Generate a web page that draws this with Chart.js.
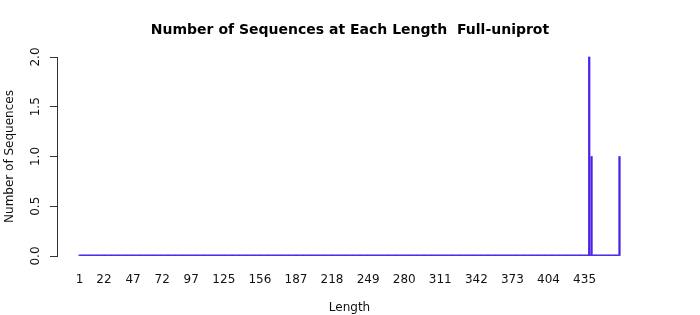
<!DOCTYPE html>
<html>
<head>
<meta charset="utf-8">
<script src="https://cdn.jsdelivr.net/npm/chart.js@4"></script>
<style>
  html, body { margin: 0; padding: 0; background: #fff; }
  #wrap { width: 700px; height: 315px; position: relative; }
</style>
</head>
<body>
<div id="wrap"><canvas id="c" width="700" height="315"></canvas></div>
<script>
// ---- data ----
const lengthMin = 1;
const lengthMax = 465;
const seqLengths = [439, 441, 465];
const seqCounts = [2, 1, 1];
const xTickLabels = [1, 22, 47, 72, 97, 125, 156, 187, 218, 249, 280, 311, 342, 373, 404, 435];
const yTickValues = [0, 0.5, 1, 1.5, 2];
const chartTitle = 'Number of Sequences at Each Length  Full-uniprot';
const xTitle = 'Length';
const yTitle = 'Number of Sequences';

// table of counts per length (lengths with no sequence count 0)
const table = [];
for (let L = lengthMin; L <= lengthMax; L++) {
  const i = seqLengths.indexOf(L);
  table.push({ x: L, y: i >= 0 ? seqCounts[i] : 0 });
}

const FONT = 'DejaVu Sans';
const axisPad = (lengthMax - lengthMin) * 0.0417;

new Chart(document.getElementById('c'), {
  type: 'bar',
  data: {
    datasets: [{
      data: table,
      backgroundColor: '#4b22e8',
      borderWidth: 0,
      barThickness: 1.6,
      minBarLength: 1,
      clip: false
    }]
  },
  options: {
    responsive: false,
    animation: false,
    devicePixelRatio: 1,
    layout: { padding: { left: 0, right: 0, top: 0, bottom: 0 } },
    plugins: {
      legend: { display: false },
      tooltip: { enabled: false },
      title: {
        display: true,
        text: chartTitle,
        color: '#000',
        font: { family: FONT, size: 14, weight: 'bold' },
        padding: { top: 21.6, bottom: 18.6 }
      }
    },
    scales: {
      x: {
        type: 'linear',
        offset: false,
        min: lengthMin - axisPad,
        max: lengthMax + axisPad,
        grid: { display: false, offset: false, drawTicks: true, tickLength: 17 },
        border: { display: false },
        afterBuildTicks: (s) => { s.ticks = xTickLabels.map(v => ({ value: v })); },
        afterFit: (s) => { s.height = 59; },
        ticks: {
          autoSkip: false, maxRotation: 0, minRotation: 0,
          padding: 0,
          color: '#111',
          font: { family: FONT, size: 12 },
          callback: (v) => String(v)
        },
        title: {
          display: true, text: xTitle, color: '#111',
          font: { family: FONT, size: 12 },
          padding: { top: 0, bottom: 0 }
        }
      },
      y: {
        type: 'linear',
        position: 'left',
        min: 0,
        max: 2,
        grid: { display: true, drawOnChartArea: false, drawTicks: true, tickLength: 7, color: '#333' },
        border: { display: true, color: '#333', width: 1 },
        afterBuildTicks: (s) => { s.ticks = yTickValues.map(v => ({ value: v })); },
        afterFit: (s) => { s.width = 57; s.paddingTop = 0; s.paddingBottom = 0; },
        ticks: {
          minRotation: 90, maxRotation: 90,
          crossAlign: 'center',
          padding: 5,
          color: '#111',
          font: { family: FONT, size: 12 },
          callback: (v) => Number(v).toFixed(1)
        },
        title: {
          display: true, text: yTitle, color: '#111',
          font: { family: FONT, size: 12 },
          padding: { top: 3, bottom: 0 }
        }
      },
      margin: {
        type: 'linear',
        position: 'right',
        display: true,
        grid: { display: false, drawTicks: false },
        border: { display: false },
        ticks: { display: false },
        afterFit: (s) => { s.width = 58; s.paddingTop = 0; s.paddingBottom = 0; }
      }
    }
  }
});
</script>
</body>
</html>
